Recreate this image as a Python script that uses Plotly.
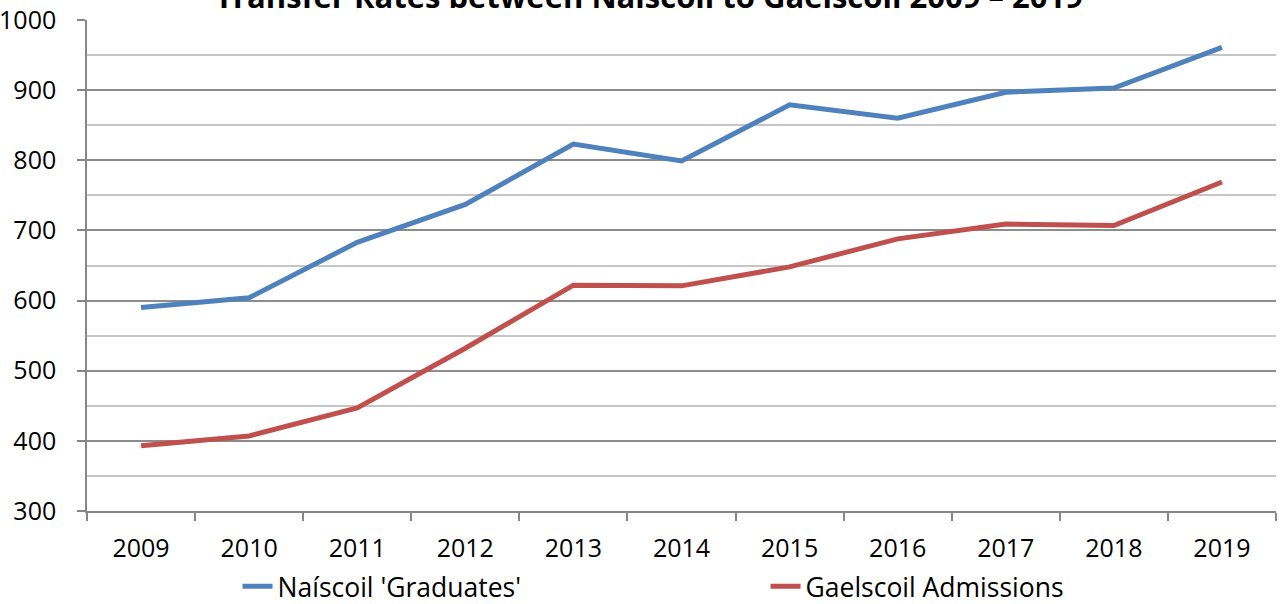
import plotly.graph_objects as go

years = ["2009", "2010", "2011", "2012", "2013", "2014", "2015", "2016", "2017", "2018", "2019"]
naiscoil_graduates = [590, 604, 683, 737, 823, 799, 879, 860, 897, 903, 961]
gaelscoil_admissions = [393, 407, 447, 532, 622, 621, 648, 688, 709, 707, 769]

FONT = "Open Sans"
TITLE = "<b>Transfer Rates between Naíscoil to Gaelscoil 2009 – 2019</b>"

fig = go.Figure()
fig.add_trace(go.Scatter(x=years, y=naiscoil_graduates, mode="lines",
                         name="Naíscoil 'Graduates'",
                         line=dict(color="#4F81BD", width=5)))
fig.add_trace(go.Scatter(x=years, y=gaelscoil_admissions, mode="lines",
                         name="Gaelscoil Admissions",
                         line=dict(color="#C0504D", width=5)))

fig.add_annotation(text=TITLE, xref="paper", yref="paper", x=0.4727, y=1.0489,
                   xanchor="center", yanchor="middle", showarrow=False,
                   font=dict(family=FONT, size=31, color="black"))

fig.update_layout(
    width=1285, height=604,
    margin=dict(l=87, r=9, t=20, b=93, autoexpand=False),
    paper_bgcolor="white", plot_bgcolor="white",
    font=dict(family=FONT, size=25, color="black"),
    showlegend=True,
    legend=dict(orientation="h", x=0.1266, xanchor="left", y=-0.154, yanchor="middle",
                font=dict(family=FONT, size=26.5), entrywidth=483, entrywidthmode="pixels",
                bgcolor="rgba(0,0,0,0)"),
    xaxis=dict(
        type="category", range=[-0.5, 10.5], automargin=False,
        showline=True, linecolor="#868686", linewidth=1.5,
        ticks="outside", ticklen=8, tickcolor="#868686", tickwidth=1.5,
        tickson="boundaries", showgrid=False, ticklabelstandoff=14,
        tickfont=dict(family=FONT, size=25),
    ),
    yaxis=dict(
        range=[300, 1000], dtick=100, tick0=300, automargin=False,
        showline=True, linecolor="#868686", linewidth=1.5,
        ticks="outside", ticklen=8, tickcolor="#868686", tickwidth=1.5,
        showgrid=True, gridcolor="#8c8c8c", gridwidth=1.5,
        minor=dict(dtick=50, showgrid=True, gridcolor="#c6c6c6", gridwidth=1.5),
        zeroline=False, ticklabelstandoff=16,
        tickfont=dict(family=FONT, size=25),
    ),
)

fig.write_html("out.html", config={"displayModeBar": False},
               post_script="document.body.style.margin='0';document.body.style.overflow='hidden';")
